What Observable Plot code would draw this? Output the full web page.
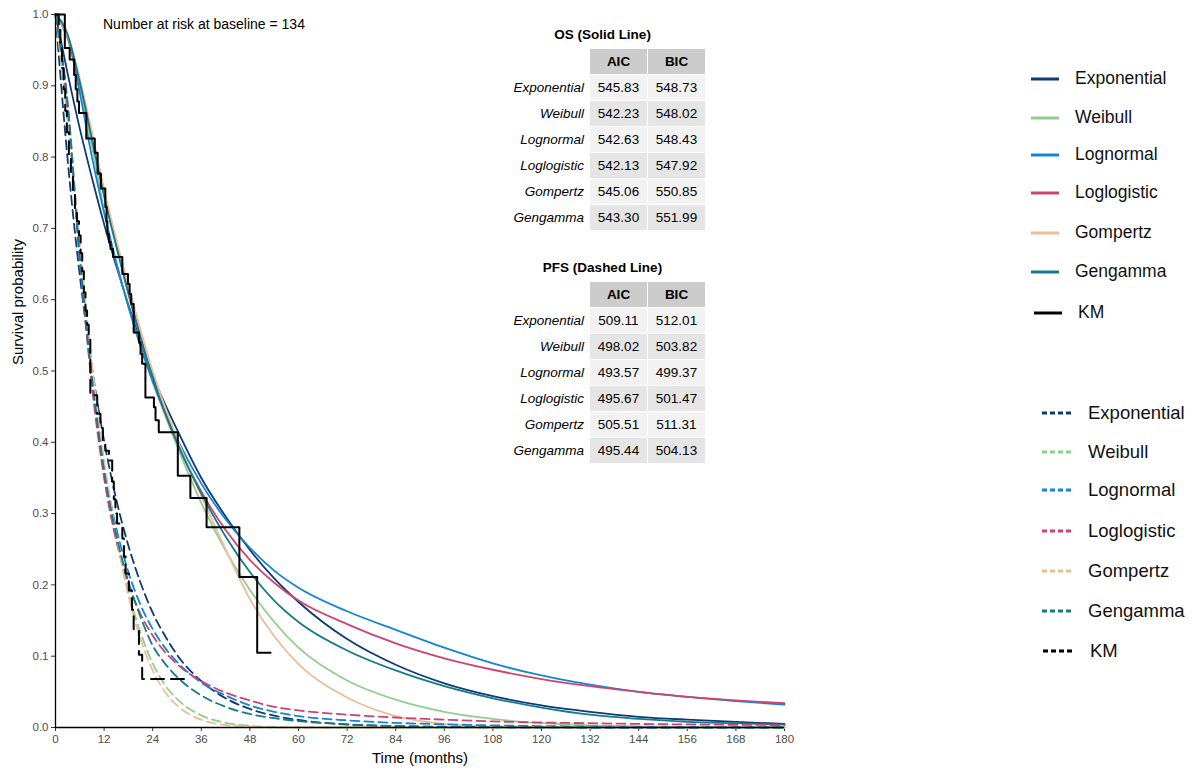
<!DOCTYPE html>
<html>
<head>
<meta charset="utf-8">
<script src="https://cdn.jsdelivr.net/npm/d3@7"></script>
<script src="https://cdn.jsdelivr.net/npm/@observablehq/plot@0.6"></script>
<style>
  body { margin: 0; background: #fff; font-family: "Liberation Sans", Arial, sans-serif; }
  #wrap { position: relative; width: 1192px; height: 769px; overflow: hidden; }
  #wrap > svg { position: absolute; left: 0; top: 0; }
  .abs { position: absolute; white-space: nowrap; }
  .ttl { font-weight: bold; font-size: 13.5px; text-align: center; width: 205px; left: 500px; line-height: 16px; }
  .tbl { position: absolute; left: 495px; display: grid; grid-template-columns: 94px 57px 57px; column-gap: 1px; row-gap: 1px; font-size: 13.5px; }
  .tbl div { height: 25px; line-height: 25px; text-align: center; }
  .tbl .rn { text-align: right; padding-right: 5px; font-style: italic; }
  .tbl .hd { background: #cccccc; font-weight: bold; }
  .tbl .c0 { background: #f2f2f2; }
  .tbl .c1 { background: #e5e5e5; }
</style>
</head>
<body>
<div id="wrap"></div>
<script>
// ---------- data ----------
const models = ["Exponential", "Weibull", "Lognormal", "Loglogistic", "Gompertz", "Gengamma"];
const modelColors = ["#0d3b78", "#93cc93", "#1286d4", "#cf4370", "#ecbd98", "#157a8a"];

const osTimes = [0, 3, 6, 9, 12, 18, 24, 30, 36, 42, 48, 54, 60, 72, 84, 96, 108, 120, 132, 144, 156, 168, 180];
const osExponential = [1, .917, .840, .771, .706, .593, .494, .418, .350, .296, .249, .209, .176, .124, .088, .062, .044, .031, .022, .015, .011, .008, .005];
const osWeibull     = [1, .965, .895, .815, .725, .59, .485, .395, .315, .248, .193, .148, .112, .066, .039, .022, .012, .006, .003, .0015, .0007, .0003, .0001];
const osLognormal   = [1, .97, .89, .80, .722, .59, .485, .405, .342, .292, .252, .22, .196, .163, .137, .112, .09, .073, .06, .05, .043, .037, .032];
const osLoglogistic = [1, .968, .905, .83, .752, .608, .491, .40, .331, .277, .235, .203, .178, .145, .118, .097, .081, .068, .058, .05, .043, .038, .034];
const osGompertz    = [1, .97, .91, .835, .755, .62, .50, .405, .325, .25, .18, .128, .089, .042, .016, .005, .001, 0, 0, 0, 0, 0, 0];
const osGengamma    = [1, .972, .905, .825, .745, .61, .49, .40, .328, .268, .218, .178, .148, .108, .08, .058, .041, .028, .018, .012, .008, .006, .004];

const pfsTimes = [0, 3, 6, 9, 12, 15, 18, 21, 24, 27, 30, 36, 42, 48, 54, 60, 72, 84, 96, 108, 120, 132, 144, 156, 168, 180];
const pfsExponential = [1, .796, .634, .505, .402, .32, .255, .203, .161, .129, .102, .065, .041, .026, .0165, .0105, .0042, .0017, .0007, .0003, .0001, 0, 0, 0, 0, 0];
const pfsWeibull     = [1, .85, .67, .50, .37, .27, .19, .133, .09, .06, .04, .017, .0065, .0023, .0008, .0002, 0, 0, 0, 0, 0, 0, 0, 0, 0, 0];
const pfsLognormal   = [1, .873, .654, .486, .365, .28, .218, .172, .138, .112, .092, .063, .045, .031, .022, .016, .01, .0065, .0045, .003, .002, .0015, .001, .0008, .0006, .0005];
const pfsLoglogistic = [1, .877, .661, .479, .35, .262, .202, .159, .129, .106, .089, .065, .049, .038, .029, .024, .018, .014, .011, .0085, .007, .006, .005, .0043, .0038, .0034];
const pfsGompertz    = [1, .86, .68, .51, .375, .27, .185, .124, .08, .05, .031, .011, .0035, .001, .0003, 0, 0, 0, 0, 0, 0, 0, 0, 0, 0, 0];
const pfsGengamma    = [1, .87, .66, .49, .36, .27, .205, .155, .115, .09, .071, .045, .029, .019, .013, .009, .0045, .0022, .0011, .0005, .0002, 0, 0, 0, 0, 0];

const kmOsTime = [0, 2.3, 3.5, 4.6, 5.0, 5.4, 5.8, 7.6, 9.7, 10.4, 11.2, 12.3, 12.6, 12.8, 13.2, 13.6, 14.2, 16.5, 17.9, 18.3, 18.7, 19.3, 20.6, 21.0, 21.4, 22.2, 24.3, 24.7, 25.5, 30.2, 33.3, 37.3, 45.4, 49.8, 53.1];
const kmOsSurv = [1, .953, .937, .915, .895, .878, .862, .826, .806, .777, .756, .73, .71, .692, .681, .671, .66, .636, .622, .608, .594, .554, .54, .524, .51, .463, .449, .431, .414, .353, .322, .281, .211, .105, .105];

const kmPfsTime = [0, 0.8, 1.2, 1.6, 2.0, 2.4, 2.8, 3.3, 3.8, 4.3, 4.8, 5.3, 5.8, 6.2, 6.6, 7.0, 7.4, 7.8, 8.2, 8.6, 10.3, 11.1, 11.7, 12.3, 13.2, 14.0, 14.4, 14.8, 15.2, 16.5, 16.9, 17.3, 18.1, 18.9, 19.3, 20.6, 21.4, 32.4];
const kmPfsSurv = [1, .985, .955, .925, .895, .865, .835, .80, .775, .75, .725, .71, .69, .665, .64, .61, .585, .565, .547, .466, .44, .42, .40, .388, .3745, .345, .32, .30, .286, .265, .24, .216, .192, .165, .138, .102, .068, .068];

const xTicks = [0, 12, 24, 36, 48, 60, 72, 84, 96, 108, 120, 132, 144, 156, 168, 180];
const yTicks = [0, 0.1, 0.2, 0.3, 0.4, 0.5, 0.6, 0.7, 0.8, 0.9, 1.0];

const osAIC  = ["545.83", "542.23", "542.63", "542.13", "545.06", "543.30"];
const osBIC  = ["548.73", "548.02", "548.43", "547.92", "550.85", "551.99"];
const pfsAIC = ["509.11", "498.02", "493.57", "495.67", "505.51", "495.44"];
const pfsBIC = ["512.01", "503.82", "499.37", "501.47", "511.31", "504.13"];

const riskText = "Number at risk at baseline = 134";

// ---------- build tidy data ----------
const osSeries = [osExponential, osWeibull, osLognormal, osLoglogistic, osGompertz, osGengamma];
const pfsSeries = [pfsExponential, pfsWeibull, pfsLognormal, pfsLoglogistic, pfsGompertz, pfsGengamma];
const osData = [], pfsData = [];
models.forEach((m, i) => {
  osTimes.forEach((t, j) => osData.push({t, s: osSeries[i][j], model: m}));
  pfsTimes.forEach((t, j) => pfsData.push({t, s: pfsSeries[i][j], model: m}));
});
const kmOs = kmOsTime.map((t, i) => ({t, s: kmOsSurv[i]}));
const kmPfs = kmPfsTime.map((t, i) => ({t, s: kmPfsSurv[i]}));

const FONT = '"Liberation Sans", Arial, sans-serif';

const chart = Plot.plot({
  width: 1192,
  height: 769,
  marginLeft: 55,
  marginRight: 408,
  marginTop: 14,
  marginBottom: 42,
  style: {fontFamily: FONT, fontSize: "11.5px", color: "#4d4d4d", background: "white"},
  x: {domain: [0, 180]},
  y: {domain: [0, 1]},
  color: {domain: models, range: modelColors},
  marks: [
    Plot.axisX({ticks: xTicks, tickSize: 4, tickPadding: 3, label: null, stroke: "#333"}),
    Plot.axisY({ticks: yTicks, tickSize: 4, tickPadding: 3, tickFormat: d3.format(".1f"), label: null, stroke: "#333"}),
    Plot.line(osData, {x: "t", y: "s", z: "model", stroke: "model", strokeWidth: 1.8, curve: "monotone-x"}),
    Plot.line(pfsData, {x: "t", y: "s", z: "model", stroke: "model", strokeWidth: 1.8, strokeDasharray: "9,5", curve: "monotone-x"}),
    Plot.line(kmOs, {x: "t", y: "s", stroke: "black", strokeWidth: 2, curve: "step-after"}),
    Plot.line(kmPfs, {x: "t", y: "s", stroke: "black", strokeWidth: 2, strokeDasharray: "13,7", curve: "step-after"}),
    Plot.ruleX([0], {y1: 0, y2: 1, stroke: "black", strokeWidth: 1.3}),
    Plot.ruleY([0], {x1: 0, x2: 180, stroke: "black", strokeWidth: 1.3}),
    Plot.text(["Time (months)"], {frameAnchor: "bottom", dy: 31, fontSize: 15, fill: "black", lineAnchor: "middle"}),
    Plot.text(["Survival probability"], {frameAnchor: "left", dx: -37, dy: -6, rotate: -90, fontSize: 15, fill: "black"})
  ]
});

const wrap = document.getElementById("wrap");
wrap.appendChild(chart);

function addDiv(html, cls, style) {
  const d = document.createElement("div");
  d.className = cls;
  d.setAttribute("style", style);
  d.innerHTML = html;
  wrap.appendChild(d);
  return d;
}

// risk text
addDiv(riskText, "abs", "left:103px; top:16px; font-size:14px; color:#000; line-height:17px;");

// tables
function table(title, titleTop, top, aic, bic) {
  addDiv(title, "abs ttl", `top:${titleTop}px;`);
  let cells = `<div></div><div class="hd">AIC</div><div class="hd">BIC</div>`;
  models.forEach((m, i) => {
    const c = i % 2 === 0 ? "c0" : "c1";
    cells += `<div class="rn">${m}</div><div class="${c}">${aic[i]}</div><div class="${c}">${bic[i]}</div>`;
  });
  addDiv(cells, "tbl", `top:${top}px;`);
}
table("OS (Solid Line)", 27, 49, osAIC, osBIC);
table("PFS (Dashed Line)", 260, 282, pfsAIC, pfsBIC);

// legends
const legNames = models.concat(["KM"]);
const legColors = modelColors.concat(["#000000"]);
const leg1Y = [79, 118, 155, 193, 233, 272, 313];
const leg2Y = [413, 452, 490, 531, 571, 611, 651];
legNames.forEach((m, i) => {
  const isKM = m === "KM";
  const x1 = isKM ? 1034 : 1031;
  const lx = isKM ? 1078 : 1075;
  addDiv(`<svg width="30" height="6"><line x1="0" y1="3" x2="28" y2="3" stroke="${legColors[i]}" stroke-width="3"/></svg>`,
    "abs", `left:${x1}px; top:${leg1Y[i] - 3}px; line-height:0;`);
  addDiv(m, "abs", `left:${lx}px; top:${leg1Y[i] - 11}px; font-size:17.5px; line-height:21px; color:#111;`);

  const x2 = isKM ? 1043 : 1042;
  const lx2 = isKM ? 1090 : 1088;
  addDiv(`<svg width="32" height="6"><line x1="0" y1="3" x2="30" y2="3" stroke="${legColors[i]}" stroke-width="3" stroke-dasharray="5,3"/></svg>`,
    "abs", `left:${x2}px; top:${leg2Y[i] - 3}px; line-height:0;`);
  addDiv(m, "abs", `left:${lx2}px; top:${leg2Y[i] - 11}px; font-size:18.5px; line-height:22px; color:#111;`);
});
</script>
</body>
</html>
